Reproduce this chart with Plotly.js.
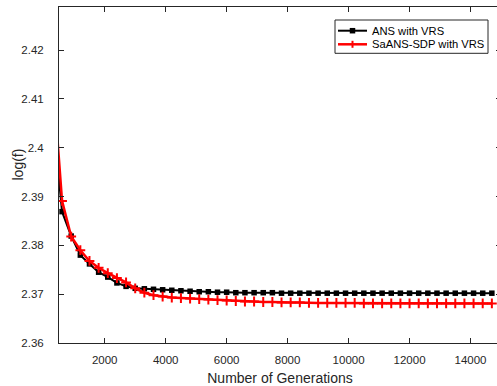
<!DOCTYPE html>
<html>
<head>
<meta charset="utf-8">
<script src="https://cdn.plot.ly/plotly-3.0.1.min.js"></script>
<style>
html,body{margin:0;padding:0;overflow:hidden;background:#fff;width:497px;height:386px;}
#chart{width:501px;height:386px;}
</style>
</head>
<body>
<div id="chart"></div>
<script>
// Generations (sampled every 300)
const generations = [300,600,900,1200,1500,1800,2100,2400,2700,3000,3300,3600,3900,4200,4500,4800,5100,5400,5700,6000,
  6300,6600,6900,7200,7500,7800,8100,8400,8700,9000,9300,9600,9900,10200,10500,10800,11100,11400,11700,12000,
  12300,12600,12900,13200,13500,13800,14100,14400,14700];

// ANS with VRS
const ansVRS = [2.4064,2.3869,2.3819,2.3780,2.3762,2.3745,2.3735,2.3723,2.3716,2.3712,2.3711,2.3710,2.3709,2.3708,2.3707,2.3706,2.3705,2.3705,2.3704,2.3704,
  2.3703,2.3703,2.3703,2.3703,2.3703,2.3702,2.3702,2.3702,2.3702,2.3702,2.3702,2.3702,2.3702,2.3702,2.3702,2.3702,2.3702,2.3702,2.3702,2.3702,
  2.3702,2.3702,2.3702,2.3702,2.3702,2.3702,2.3702,2.3702,2.3702];

// SaANS-SDP with VRS
const saansVRS = [2.4143,2.3891,2.3818,2.3790,2.3768,2.3754,2.3743,2.3733,2.3724,2.3712,2.3703,2.3698,2.3695,2.3693,2.3692,2.3691,2.3690,2.3689,2.3688,2.3687,
  2.3686,2.3685,2.3685,2.3684,2.3684,2.3683,2.3683,2.3683,2.3682,2.3682,2.3682,2.3682,2.3682,2.3682,2.3681,2.3681,2.3681,2.3681,2.3681,2.3681,
  2.3681,2.3681,2.3681,2.3681,2.3681,2.3681,2.3681,2.3681,2.3681];

const seriesNames = ['ANS with VRS', 'SaANS-SDP with VRS'];
const xTickVals = [2000,4000,6000,8000,10000,12000,14000];
const xTickText = ['2000','4000','6000','8000','10000','12000','14000'];
const yTickVals = [2.36,2.37,2.38,2.39,2.40,2.41,2.42];
const yTickText = ['2.36','2.37','2.38','2.39','2.4','2.41','2.42'];

const axisColor = '#262626';
const fontFam = '"Liberation Sans", Arial, Helvetica, sans-serif';

const traces = [
  {
    x: generations, y: ansVRS, name: seriesNames[0], type: 'scatter', mode: 'lines+markers',
    line: {color: '#000000', width: 2},
    marker: {symbol: 'square', size: 5.5, color: '#000000', line: {color: '#000000', width: 0}}
  },
  {
    x: generations, y: saansVRS, name: seriesNames[1], type: 'scatter', mode: 'lines+markers',
    line: {color: '#ff0000', width: 2.5},
    marker: {symbol: 'cross-thin-open', size: 7, color: '#ff0000', line: {color: '#ff0000', width: 2}}
  }
];

// Plot area geometry (pixels) used to place the hand-built legend in paper coordinates
const PL = 59, PW = 442, PT = 7, PH = 336;
const px = v => (v - PL) / PW;
const py = v => (PT + PH - v) / PH;

// Legend box and rows (MATLAB-style compact legend)
const legBox = {x0: 335, x1: 488, y0: 20, y1: 53.3};
const rowY = [30.7, 44.3];
const sampleX = [338, 367];
const markX = 352.5;
const textX = 370;

const shapes = [
  {type: 'rect', xref: 'paper', yref: 'paper', x0: px(legBox.x0), x1: px(legBox.x1), y0: py(legBox.y1), y1: py(legBox.y0),
   line: {color: axisColor, width: 1}, fillcolor: '#ffffff', layer: 'above'},
  // ANS sample
  {type: 'line', xref: 'paper', yref: 'paper', x0: px(sampleX[0]), x1: px(sampleX[1]), y0: py(rowY[0]), y1: py(rowY[0]),
   line: {color: '#000000', width: 2}, layer: 'above'},
  {type: 'rect', xref: 'paper', yref: 'paper', x0: px(markX - 2.75), x1: px(markX + 2.75), y0: py(rowY[0] + 2.75), y1: py(rowY[0] - 2.75),
   line: {color: '#000000', width: 0}, fillcolor: '#000000', layer: 'above'},
  // SaANS sample
  {type: 'line', xref: 'paper', yref: 'paper', x0: px(sampleX[0]), x1: px(sampleX[1]), y0: py(rowY[1]), y1: py(rowY[1]),
   line: {color: '#ff0000', width: 2.5}, layer: 'above'},
  {type: 'line', xref: 'paper', yref: 'paper', x0: px(markX), x1: px(markX), y0: py(rowY[1] + 3.5), y1: py(rowY[1] - 3.5),
   line: {color: '#ff0000', width: 2}, layer: 'above'}
];

const annotations = [
  {xref: 'paper', yref: 'paper', x: px(textX), y: py(rowY[0]), xanchor: 'left', yanchor: 'middle', showarrow: false,
   text: seriesNames[0], font: {family: fontFam, size: 11.2, color: '#000000'}},
  {xref: 'paper', yref: 'paper', x: px(textX), y: py(rowY[1]), xanchor: 'left', yanchor: 'middle', showarrow: false,
   text: seriesNames[1], font: {family: fontFam, size: 11.2, color: '#000000'}},
  // y-axis title
  {xref: 'paper', yref: 'paper', x: px(17), y: py(164.5), xanchor: 'center', yanchor: 'middle', showarrow: false,
   textangle: -90, text: 'log(f)', font: {family: fontFam, size: 14, color: axisColor}}
];

const layout = {
  width: 501, height: 386,
  margin: {l: PL, r: 501 - PL - PW, t: PT, b: 386 - PT - PH, pad: 0},
  paper_bgcolor: '#ffffff', plot_bgcolor: '#ffffff',
  font: {family: fontFam, color: axisColor, size: 11.5},
  showlegend: false,
  shapes: shapes,
  annotations: annotations,
  xaxis: {
    range: [500, 15000], tickvals: xTickVals, ticktext: xTickText,
    showline: true, linecolor: axisColor, linewidth: 1, mirror: 'ticks',
    ticks: 'inside', ticklen: 5, tickcolor: axisColor, tickwidth: 1,
    showgrid: false, zeroline: false,
    tickfont: {family: fontFam, size: 11.5, color: axisColor},
    ticklabelstandoff: 6,
    title: {text: 'Number of Generations', font: {family: fontFam, size: 14, color: axisColor}}
  },
  yaxis: {
    range: [2.36, 2.42881], tickvals: yTickVals, ticktext: yTickText,
    showline: true, linecolor: axisColor, linewidth: 1, mirror: 'ticks',
    ticks: 'inside', ticklen: 5, tickcolor: axisColor, tickwidth: 1,
    showgrid: false, zeroline: false,
    tickfont: {family: fontFam, size: 11.5, color: axisColor},
    ticklabelstandoff: 12
  }
};

Plotly.newPlot('chart', traces, layout, {displayModeBar: false, staticPlot: true});
</script>
</body>
</html>
